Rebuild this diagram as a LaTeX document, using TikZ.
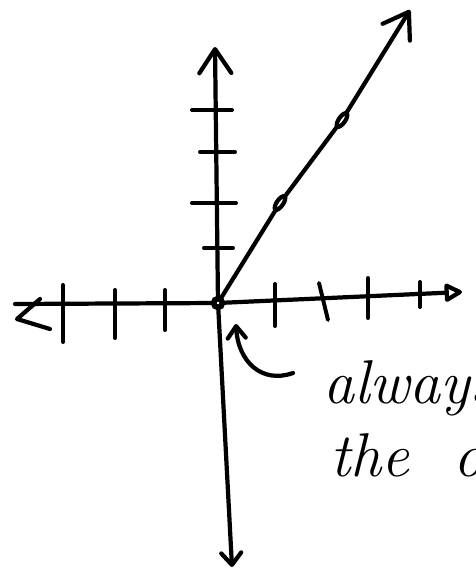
\documentclass[tikz,border=0pt]{standalone}
\usepackage{tikz}
\usetikzlibrary{arrows.meta,shapes.geometric}

\begin{document}
\begin{tikzpicture}[
    x=0.025cm, y=-0.025cm,
    pen/.style={line width=3pt, line cap=round, line join=round, color=black},
    tickmark/.style={pen, line width=2.8pt},
    bigbarb/.tip={Straight Barb[length=6mm, width=8mm, round]},
    smallbarb/.tip={Straight Barb[length=3mm, width=5mm, round]},
    dotmark/.style={ellipse, draw, line width=3pt, fill=white, minimum width=0.4cm, minimum height=0.16cm, inner sep=0pt},
    hand/.style={font=\fontsize{44}{52}\selectfont\itshape, inner sep=0pt, anchor=base west}
  ]
  \useasboundingbox (0,0) rectangle (475,572);

  % axes and ray end points
  \coordinate (O) at (218,303);
  \coordinate (xl) at (15,304);
  \coordinate (xr) at (462,292);
  \coordinate (yt) at (215,47);
  \coordinate (yb) at (232,567);
  \coordinate (raytip) at (410,10);
  \coordinate (p1) at (280,203);
  \coordinate (p2) at (342,120);

  % x axis
  \draw[pen, -{Triangle[open, length=5mm, width=5mm, round]}] (xl) -- (O) -- (xr);
  \draw[pen] (40,299) -- (17,319) -- (50,329);
  \foreach \tx/\ta/\tb in {63/285/342, 115/290/338, 165/290/330, 275/284/326, 368/278/318, 420/282/307}
    \draw[tickmark] (\tx,\ta) -- (\tx,\tb);
  \draw[tickmark] (319,283) -- (328,320);

  % y axis
  \draw[pen, bigbarb-smallbarb] (yt) -- (O) -- (yb);
  \foreach \ty/\ta/\tb in {110/192/232, 152/200/235, 203/192/236, 248/204/233}
    \draw[tickmark] (\ta,\ty) -- (\tb,\ty);

  % the ray
  \draw[pen] (O) -- (p1);
  \draw[pen] (p1) -- (p2);
  \draw[pen, -bigbarb] (p2) -- (raytip);
  \node[dotmark, rotate=55] (dot1) at (p1) {};
  \node[dotmark, rotate=55] (dot2) at (p2) {};
  \node[circle, draw, line width=4pt, fill=white, minimum size=0.22cm, inner sep=0pt] (orig) at (O) {};

  % note
  \coordinate (notetail) at (293,373);
  \coordinate (notetip) at (236,324);
  \draw[pen, -{Straight Barb[length=3mm, width=4.5mm, round]}] (notetail) .. controls (262,384) and (238,362) .. (notetip);
  \node[hand] (note1) at (323,403) {always};
  \node[hand] (note2) at (330,476) {the\hspace{1.1cm}o};
\end{tikzpicture}
\end{document}
